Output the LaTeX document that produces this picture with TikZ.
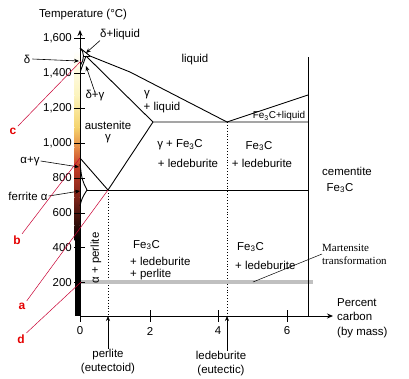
\documentclass[tikz,border=0pt]{standalone}
\usepackage{fontspec}
\setmainfont{Liberation Sans}
\newfontfamily\martfont{Liberation Serif}
\usetikzlibrary{arrows.meta}
\definecolor{markred}{RGB}{200, 0, 50}
\definecolor{letterred}{RGB}{228, 0, 0}
\definecolor{martgray}{RGB}{192, 192, 192}
\definecolor{barpale}{RGB}{252, 244, 190}
\definecolor{baryellow}{RGB}{245, 212, 110}
\definecolor{barorange}{RGB}{230, 140, 70}
\definecolor{barred}{RGB}{195, 60, 40}
\definecolor{barbrown}{RGB}{125, 35, 25}
\definecolor{bardark}{RGB}{45, 12, 8}
\newcommand{\fec}{Fe\textsubscript{3}C}

\begin{document}
\begin{tikzpicture}[x=1bp, y=-1bp,
        lbl/.style={font=\fontsize{11.5}{13.5}\selectfont, inner sep=0pt, align=center},
        small/.style={font=\fontsize{10}{12}\selectfont, inner sep=0pt},
        tick/.style={font=\fontsize{11.5}{13.5}\selectfont, inner sep=0pt, anchor=east},
        phase/.style={black, line width=0.9pt},
        dots/.style={black, dotted, line width=0.9pt},
        arr/.style={-{Stealth[length=5pt, width=4pt]}, black, line width=0.6pt},
        axis/.style={-{Stealth[length=6pt, width=5pt]}, black, line width=0.9pt},
        redmark/.style={markred, line width=0.5pt, shorten <=2bp},
        redlet/.style={letterred, font=\bfseries\fontsize{12}{14}\selectfont, inner sep=0pt}
      ]
      \useasboundingbox (0,0) rectangle (409,379);
      % glowing colour bar
      \shade[top color=white, bottom color=barpale] (74.5,50) rectangle (79.5,95);
      \shade[top color=barpale, bottom color=baryellow] (74.5,95) rectangle (79.5,127);
      \shade[top color=baryellow, bottom color=barorange] (74.5,127) rectangle (79.5,147);
      \shade[top color=barorange, bottom color=barred] (74.5,147) rectangle (79.5,167);
      \shade[top color=barred, bottom color=barbrown] (74.5,167) rectangle (79.5,197);
      \shade[top color=barbrown, bottom color=bardark] (74.5,197) rectangle (79.5,225);
      \shade[top color=bardark, bottom color=black] (74.5,225) rectangle (79.5,240);
      \fill[black] (74.5,240) rectangle (80,316);

      \coordinate (O) at (80,316);
      \coordinate (ytop) at (80,30);
      \coordinate (xend) at (333,316);
      \coordinate (melt) at (80,48);
      \coordinate (periL) at (83.3,56);
      \coordinate (peri) at (86,56);
      \coordinate (periR) at (90,56);
      \coordinate (liqA) at (130,72);
      \coordinate (eutec) at (227,122);
      \coordinate (eutL) at (153,122);
      \coordinate (eutR) at (308,122);
      \coordinate (liqR) at (308,95);
      \coordinate (cemTop) at (308,57);
      \coordinate (cemBot) at (308,316);
      \coordinate (deltaB) at (80.5,65);
      \coordinate (gamB) at (80.5,71);
      \coordinate (aThree) at (80,158);
      \coordinate (alphaT) at (80,164);
      \coordinate (alphaP) at (87,190);
      \coordinate (alphaB) at (80,206);
      \coordinate (eutoid) at (108,190);
      \coordinate (eutoidR) at (308,190);
      \coordinate (eutoidB) at (108,316);
      \coordinate (eutecB) at (227,316);
      \coordinate (martL) at (81,282);
      \coordinate (martR) at (313,282);

      % phase boundaries
      \draw[dots] (eutoid) -- (eutoidB);
      \draw[dots] (eutec) -- (eutecB);
      \draw[martgray, line width=4bp] (martL) -- (martR);
      \draw[phase] (melt) -- (periR) -- (liqA) -- (eutec) -- (liqR);
      \draw[phase] (melt) .. controls (84.5,51) and (84.5,60) .. (deltaB);
      \draw[phase] (periL) -- (periR);
      \draw[phase] (peri) -- (eutL) -- (eutR);
      \draw[phase] (peri) -- (gamB);
      \draw[phase] (cemTop) -- (cemBot);
      \draw[phase] (aThree) -- (eutoid) -- (eutL);
      \draw[phase] (alphaT) .. controls (82,180) .. (alphaP) .. controls (82,198) .. (alphaB);
      \draw[phase] (alphaP) -- (eutoidR);

      % axes
      \draw[axis] (O) -- (ytop);
      \draw[axis] (O) -- (xend);
      \foreach \val/\ypos/\name in {{1,600}/38.4/t16, {1,400}/73.3/t14, {1,200}/108.2/t12,
          {1,000}/143.1/t10, 800/178/t8, 600/212.9/t6, 400/247.8/t4, 200/282.6/t2}{
        \draw[line width=0.8pt] (74,\ypos) -- (85,\ypos);
        \node[tick] (\name) at (72,\ypos) {\val};
      }
      \draw[line width=0.8pt] (80,316) -- (80,322);
      \foreach \xpos/\name in {150/c2, 218/c4, 287/c6}
        \draw[line width=0.8pt] (\xpos,310) -- (\xpos,322);
      \node[lbl] (zero) at (80,331) {0};
      \node[lbl] (two) at (150,331) {2};
      \node[lbl] (four) at (218,331) {4};
      \node[lbl] (six) at (287,331) {6};
      \node[lbl] (ylab) at (83,15) {Temperature (°C)};
      \node[lbl, align=left, anchor=west, font=\fontsize{11.5}{14.5}\selectfont] (xlab) at (337,318)
            {Percent\\carbon\\(by mass)};

      % eutectoid and eutectic pointers
      \node[lbl] (perl) at (108,361.5) {perlite\\(eutectoid)};
      \node[lbl] (ledeb) at (221,363.5) {ledeburite\\(eutectic)};
      \draw[arr] (perl.north) -- (eutoidB);
      \draw[arr] (ledeb.north -| eutecB) -- (eutecB);

      % region labels
      \node[lbl] (liq) at (195,60) {liquid};
      \node[lbl] (gam1) at (147,95) {γ};
      \node[lbl] (gam2) at (162,108) {+ liquid};
      \node[lbl, font=\fontsize{11.5}{11.5}\selectfont] (aus) at (108,132) {austenite\\γ};
      \node[lbl] (gf1) at (180,145) {γ + \fec};
      \node[lbl] (gf2) at (188,163) {+ ledeburite};
      \node[lbl] (fl1) at (259,146) {\fec};
      \node[lbl] (fl2) at (262,163) {+ ledeburite};
      \node[small] (fliq) at (279,116) {\fec+liquid};
      \node[lbl] (cem1) at (347,171) {cementite};
      \node[lbl] (cem2) at (340,188) {\fec};
      \node[lbl, anchor=west] (lo1) at (133,245) {\fec};
      \node[lbl, anchor=west] (lo2) at (130,261) {+ ledeburite};
      \node[lbl, anchor=west] (lo3) at (130,275) {+ perlite};
      \node[lbl, anchor=west] (ro1) at (237,247) {\fec};
      \node[lbl, anchor=west] (ro2) at (235,265) {+ ledeburite};
      \node[lbl, rotate=90] (alper) at (96,258) {α + perlite};

      % pointers to the small regions
      \coordinate (dliqTip) at (86,53);
      \coordinate (deltaTip) at (79,61);
      \coordinate (dgTip) at (86,66);
      \coordinate (agTip) at (79,167);
      \coordinate (ferTip) at (80,191);
      \node[lbl, anchor=west] (dliq) at (100,35) {δ+liquid};
      \node[lbl] (dlab) at (27,59) {δ};
      \node[lbl] (dglab) at (95,96) {δ+γ};
      \node[lbl] (aglab) at (30,161) {α+γ};
      \node[lbl] (ferlab) at (28,196) {ferrite α};
      \draw[arr] (dliq.south west) -- (dliqTip);
      \draw[arr] ([xshift=2bp]dlab.east) -- (deltaTip);
      \draw[arr] ([yshift=-2bp]dglab.north) -- (dgTip);
      \draw[arr] ([xshift=1bp]aglab.east) -- (agTip);
      \draw[arr] ([xshift=1bp]ferlab.east) -- (ferTip);

      % martensite
      \coordinate (martTip) at (253,282);
      \node[lbl, align=left, anchor=west, font=\martfont\fontsize{11}{13}\selectfont] (mart) at (322,254)
            {Martensite\\transformation};
      \draw[line width=0.5pt] (mart.west) -- (martTip);

      % red markers
      \coordinate (cTip) at (81,61);
      \node[redlet] (clet) at (13,131) {c};
      \node[redlet] (blet) at (17,240) {b};
      \node[redlet] (alet) at (22,306) {a};
      \node[redlet] (dlet) at (21,339) {d};
      \draw[redmark] (clet.north east) -- (cTip);
      \draw[redmark] (blet.north east) -- (aThree);
      \draw[redmark] (alet.north east) -- (eutoid);
      \draw[redmark] (dlet.north east) -- (martL);
    \end{tikzpicture}
\end{document}
